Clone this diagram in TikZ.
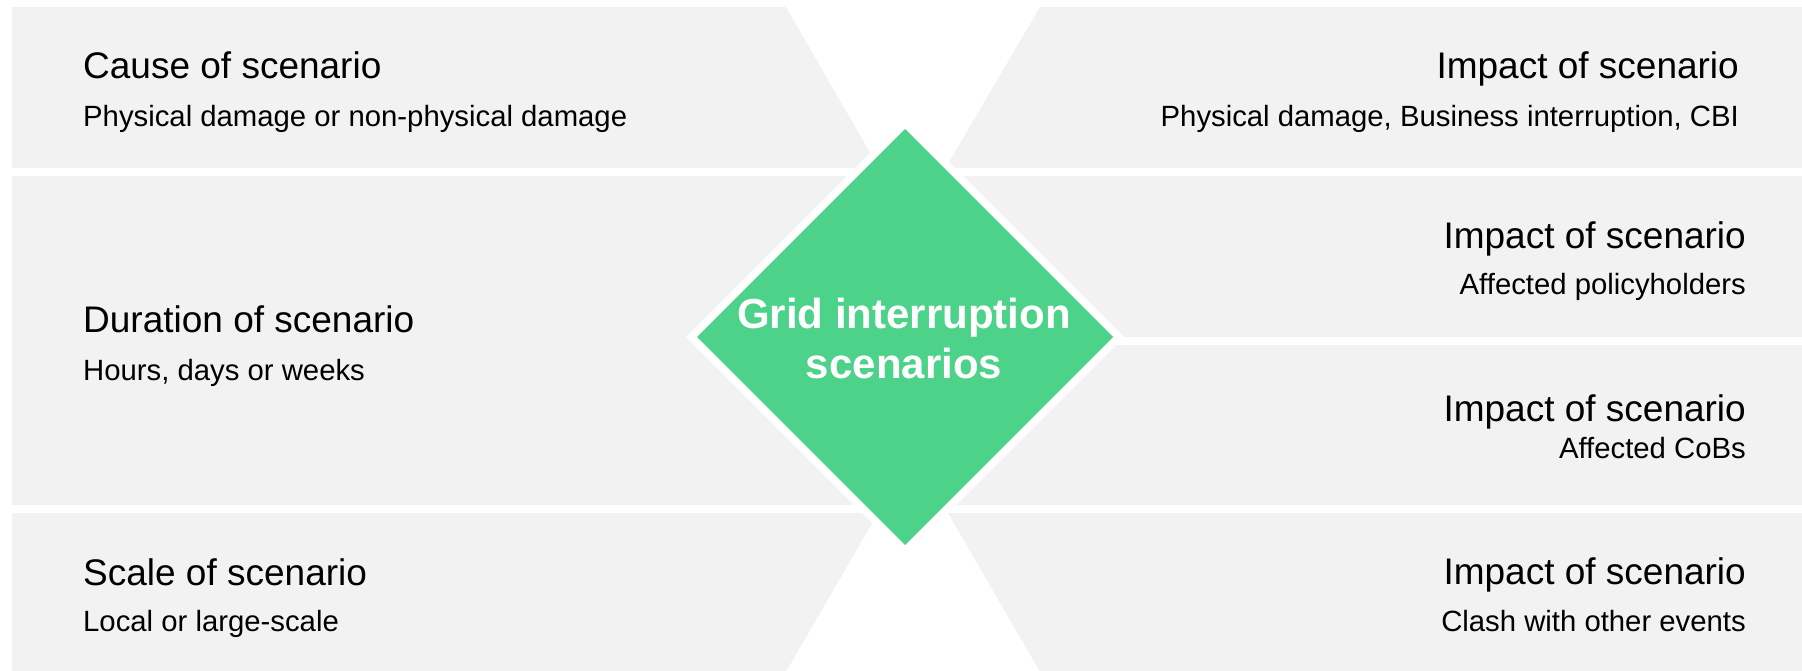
\documentclass[tikz,border=0pt]{standalone}
\usepackage{fontspec}
\setmainfont{Liberation Sans}
\definecolor{panelgray}{RGB}{242,242,242}
\definecolor{gridgreen}{RGB}{76,211,137}
\begin{document}
\begin{tikzpicture}[x=1pt,y=-1pt,
  panel/.style={fill=panelgray},
  gap/.style={fill=white},
  head/.style={inner sep=0pt, text=black, font=\fontsize{37}{44}\selectfont},
  sub/.style={inner sep=0pt, text=black, font=\fontsize{29.3}{35}\selectfont},
  ctr/.style={inner sep=0pt, text=white, font=\bfseries\fontsize{42}{50}\selectfont}]
\useasboundingbox (0,0) rectangle (1802,671);
% left panels
\path[panel] (12,7) rectangle (905,168);
\path[panel] (12,176) rectangle (905,505);
\path[panel] (12,513) rectangle (905,671);
% right panels
\path[panel] (905,7) rectangle (1802,168);
\path[panel] (905,176) rectangle (1802,337);
\path[panel] (905,345) rectangle (1802,505);
\path[panel] (905,513) rectangle (1802,671);
% white hourglass cut-outs
\path[gap] (782,0) -- (1044,0) -- (912,225) -- cycle;
\path[gap] (786,672) -- (1040,672) -- (913,453) -- cycle;
% diamond with white border
\path[gap] (905,118) -- (1124,337) -- (905,556) -- (686,337) -- cycle;
\path[fill=gridgreen] (905,129) -- (1113,337) -- (905,545) -- (697,337) -- cycle;
\node[ctr, anchor=base] (g1) at (904,328.6) {Grid interruption};
\node[ctr, anchor=base] (g2) at (904,378.7) {scenarios};
% left texts
\node[head, anchor=base west] (l1h) at (83,79) {Cause of scenario};
\node[sub, anchor=base west] (l1s) at (83,127) {Physical damage or non-physical damage};
\node[head, anchor=base west] (l2h) at (83,332) {Duration of scenario};
\node[sub, anchor=base west] (l2s) at (83,380) {Hours, days or weeks};
\node[head, anchor=base west] (l3h) at (83,585) {Scale of scenario};
\node[sub, anchor=base west] (l3s) at (83,631.5) {Local or large-scale};
% right texts
\node[head, anchor=base east] (r1h) at (1739,79) {Impact of scenario};
\node[sub, anchor=base east] (r1s) at (1739,127) {Physical damage, Business interruption, CBI};
\node[head, anchor=base east] (r2h) at (1746,248) {Impact of scenario};
\node[sub, anchor=base east] (r2s) at (1746,294) {Affected policyholders};
\node[head, anchor=base east] (r3h) at (1746,421.5) {Impact of scenario};
\node[sub, anchor=base east] (r3s) at (1746,458) {Affected CoBs};
\node[head, anchor=base east] (r4h) at (1746,584) {Impact of scenario};
\node[sub, anchor=base east] (r4s) at (1746,631) {Clash with other events};
\end{tikzpicture}
\end{document}
